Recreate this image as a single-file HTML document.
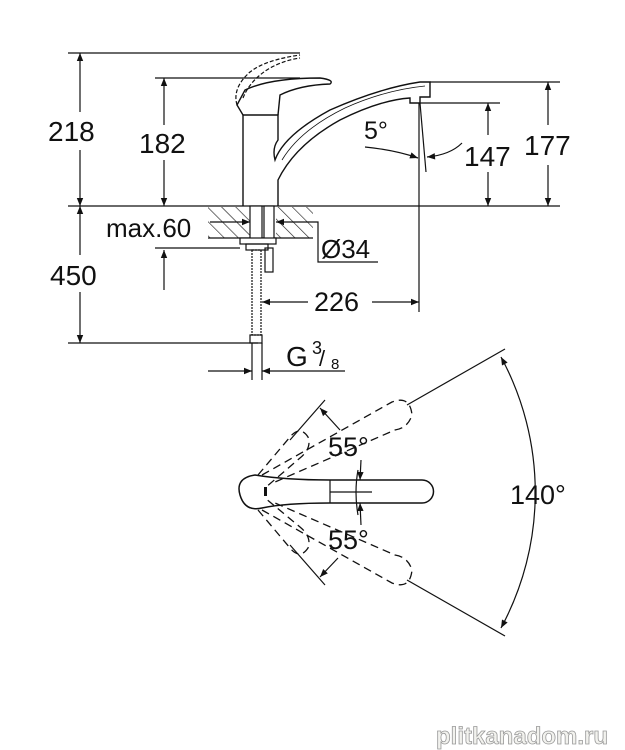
<!DOCTYPE html>
<html><head><style>
html,body{margin:0;padding:0;background:#fff;}
svg{display:block;}
text{font-family:"Liberation Sans",sans-serif;fill:#111;}
</style></head><body>
<svg width="625" height="750" viewBox="0 0 625 750" xmlns="http://www.w3.org/2000/svg">
<defs>
<marker id="a" viewBox="0 0 10 10" refX="10" refY="5" markerWidth="12" markerHeight="8" orient="auto-start-reverse" markerUnits="userSpaceOnUse"><path d="M0,1 L10,5 L0,9 z" fill="#111"/></marker>
<pattern id="h" width="10" height="10" patternUnits="userSpaceOnUse" patternTransform="rotate(-45)"><line x1="0" y1="0" x2="0" y2="10" stroke="#222" stroke-width="1.3"/></pattern>
</defs>
<g stroke="#111" stroke-width="1.2" fill="none">
<line x1="68" y1="53" x2="300" y2="53"/>
<line x1="155" y1="78" x2="300" y2="78"/>
<line x1="68" y1="206" x2="560" y2="206"/>
<line x1="430" y1="82" x2="560" y2="82"/>
<line x1="420" y1="103" x2="500" y2="103"/>
<line x1="80" y1="53" x2="80" y2="112" marker-start="url(#a)"/>
<line x1="80" y1="150" x2="80" y2="206" marker-end="url(#a)"/>
<line x1="164" y1="78" x2="164" y2="125" marker-start="url(#a)"/>
<line x1="164" y1="160" x2="164" y2="206" marker-end="url(#a)"/>
<line x1="548" y1="82" x2="548" y2="125" marker-start="url(#a)"/>
<line x1="548" y1="165" x2="548" y2="206" marker-end="url(#a)"/>
<line x1="488" y1="103" x2="488" y2="135" marker-start="url(#a)"/>
<line x1="488" y1="172" x2="488" y2="206" marker-end="url(#a)"/>
<line x1="80" y1="206" x2="80" y2="255" marker-start="url(#a)"/>
<line x1="80" y1="292" x2="80" y2="343" marker-end="url(#a)"/>
<line x1="68" y1="343" x2="258" y2="343"/>
<line x1="155" y1="248" x2="240" y2="248"/>
<line x1="164" y1="290" x2="164" y2="250" marker-end="url(#a)"/>
<line x1="419" y1="103" x2="419" y2="312"/>
<line x1="420" y1="103" x2="426" y2="172"/>
<path d="M365 147 Q395 150 418 158" marker-end="url(#a)"/>
<path d="M462 143 Q450 155 427 157" marker-end="url(#a)"/>
<line x1="262" y1="302" x2="308" y2="302" marker-start="url(#a)"/>
<line x1="372" y1="302" x2="419" y2="302" marker-end="url(#a)"/>
<line x1="208" y1="371" x2="252" y2="371" marker-end="url(#a)"/>
<line x1="345" y1="371" x2="262" y2="371" marker-end="url(#a)"/>
<rect x="208" y="207" width="42" height="31" fill="url(#h)" stroke="none"/>
<rect x="276" y="207" width="37" height="31" fill="url(#h)" stroke="none"/>
<line x1="208" y1="238" x2="313" y2="238"/>
<line x1="210" y1="222" x2="250" y2="222" marker-end="url(#a)"/>
<line x1="300" y1="222" x2="276" y2="222" marker-end="url(#a)"/>
<polyline points="300,222 318,222 318,262 378,262"/>
<rect x="250" y="206" width="12" height="34" fill="#fff"/>
<rect x="264" y="206" width="10" height="34" fill="#fff"/>
<rect x="240" y="238" width="36" height="6" fill="#fff"/>
<rect x="246" y="244" width="22" height="6"/>
<rect x="265" y="248" width="8" height="24"/>
<rect x="252" y="250" width="9" height="85" stroke-dasharray="2 1"/>
<rect x="250" y="335" width="12" height="8"/>
<line x1="252" y1="343" x2="252" y2="380"/>
<line x1="262" y1="343" x2="262" y2="380"/>
<path d="M243 206 V115 H278 V140 Q272 148 275 160 Q284 135 330 110 Q380 88 420 82 H430 V97 H420 V103 H410 V98 Q380 100 340 120 Q295 145 278 180 V206" stroke-width="1.4"/>
<path d="M282 160 Q300 130 345 108 Q385 90 425 86" stroke-width="0.8"/>
<path d="M243 115 L237 105 L245 90 Q270 78 320 78 Q335 80 330 84 Q300 85 280 95 L278 115" stroke-width="1.4"/>
<path d="M237 105 Q232 88 250 72 Q265 60 300 55" stroke-dasharray="4 2"/>
<path d="M243 98 Q250 80 270 68 Q285 60 300 58" stroke-dasharray="4 2"/>
<path d="M255 475 Q235 478 240 495 Q245 512 262 508 Q285 503 330 503 H422 A11.5 11.5 0 0 0 422 480 H330 Q285 480 255 475 Z" stroke-width="1.5"/>
<line x1="330" y1="480" x2="330" y2="503"/>
<line x1="330" y1="492" x2="372" y2="492"/>
<rect x="264" y="487" width="3" height="9" fill="#111" stroke="none"/>
<path d="M358 470 Q354 492 358 515"/>
<line x1="361" y1="460" x2="360" y2="480" marker-end="url(#a)"/>
<line x1="361" y1="525" x2="360" y2="503" marker-end="url(#a)"/>
<g stroke-dasharray="8 5" stroke-width="1.3">
<path d="M258 475 L290 437 Q300 425 308 437 Q312 448 300 458 L265 488"/>
<path d="M258 510 L290 548 Q300 560 308 548 Q312 537 300 527 L265 498"/>
<path d="M262 475 L392 402 Q410 395 412 415 Q408 428 395 430 L275 482"/>
<path d="M262 510 L392 583 Q410 590 412 570 Q408 557 395 555 L275 503"/>
</g>
<line x1="407" y1="405" x2="505" y2="349"/>
<line x1="407" y1="580" x2="505" y2="636"/>
<line x1="290" y1="440" x2="325" y2="400"/>
<line x1="290" y1="545" x2="325" y2="585"/>
<path d="M320 408 L340 430" marker-start="url(#a)"/>
<path d="M320 577 L338 558" marker-start="url(#a)"/>
<path d="M501 357 A285 285 0 0 1 501 628" marker-start="url(#a)" marker-end="url(#a)"/>
</g>
<g font-size="28">
<text x="48" y="141">218</text>
<text x="139" y="153">182</text>
<text x="50" y="285">450</text>
<text x="464" y="166">147</text>
<text x="524" y="155">177</text>
<text x="364" y="139" font-size="25">5°</text>
<text x="106" y="237" font-size="26">max.60</text>
<text x="321" y="258" font-size="26">Ø34</text>
<text x="314" y="311" font-size="27">226</text>
<text x="286" y="366" font-size="28">G</text>
<text x="312" y="354" font-size="18">3</text>
<text x="319" y="366" font-size="22">/</text>
<text x="331" y="369" font-size="15">8</text>
<text x="328" y="456" font-size="27">55°</text>
<text x="328" y="549" font-size="27">55°</text>
<text x="510" y="504" font-size="27">140°</text>
<text x="436" y="744" font-size="24" font-weight="bold" style="fill:#f2f2ee;stroke:#999;stroke-width:0.8">plitkanadom.ru</text>
</g>
</svg>
</body></html>
